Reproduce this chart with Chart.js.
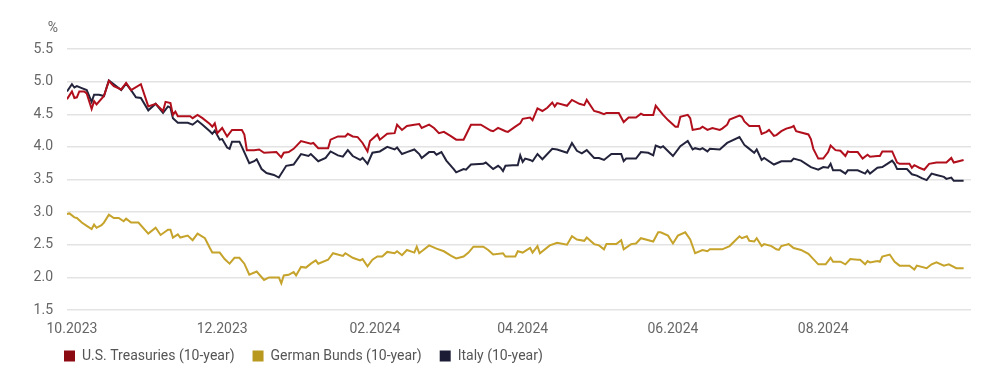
<!DOCTYPE html>
<html>
<head>
<meta charset="utf-8">
<script src="https://cdn.jsdelivr.net/npm/chart.js@4.4.0/dist/chart.umd.min.js"></script>
<style>
  body { margin: 0; background: #fff; }
  #wrap { width: 1000px; height: 387px; }
</style>
</head>
<body>
<div id="wrap"><canvas id="yieldChart"></canvas></div>
<script>
// days counted from 01.10.2023
const tickDays = [0, 61, 123, 183, 244, 305];
const tickLabels = ["10.2023", "12.2023", "02.2024", "04.2024", "06.2024", "08.2024"];

const usDays = [-2,0,1,2,3,5,6,8,9,10,13,15,17,20,22,24,28,31,34,37,38,40,41,42,43,48,49,51,53,56,57,58,59,61,63,65,69,70,71,74,76,78,83,85,86,88,90,93,97,98,100,104,105,108,111,112,114,116,118,120,121,124,125,128,131,132,134,136,139,141,142,145,147,149,151,154,156,159,162,166,170,171,173,176,177,180,182,183,186,187,189,191,193,195,196,197,201,203,206,208,209,212,214,216,217,218,222,224,226,229,231,232,236,237,240,242,245,246,247,250,251,252,255,256,258,260,263,264,266,267,271,272,273,275,279,280,282,283,285,286,288,290,292,293,294,296,299,300,301,303,305,307,308,310,312,314,315,316,319,321,323,324,327,328,329,333,335,336,340,341,342,344,346,348,351,355,357,358,362];
const usYield = [4.73,4.85,4.75,4.76,4.85,4.85,4.82,4.58,4.70,4.65,4.78,5.01,4.93,4.88,4.98,4.87,4.96,4.62,4.66,4.55,4.69,4.67,4.49,4.54,4.47,4.47,4.44,4.49,4.44,4.35,4.31,4.36,4.21,4.29,4.16,4.26,4.26,4.19,3.95,3.95,3.96,3.91,3.92,3.84,3.91,3.92,3.97,4.09,4.05,4.06,3.98,3.98,4.11,4.16,4.16,4.20,4.16,4.15,4.06,3.93,4.09,4.19,4.11,4.20,4.21,4.34,4.26,4.32,4.34,4.35,4.29,4.34,4.29,4.21,4.23,4.16,4.11,4.11,4.34,4.34,4.25,4.24,4.29,4.24,4.23,4.31,4.36,4.43,4.45,4.41,4.59,4.55,4.60,4.68,4.62,4.67,4.63,4.72,4.66,4.64,4.72,4.55,4.53,4.50,4.52,4.52,4.52,4.38,4.45,4.45,4.51,4.49,4.49,4.63,4.49,4.41,4.31,4.31,4.46,4.49,4.44,4.26,4.28,4.31,4.26,4.29,4.26,4.28,4.34,4.42,4.48,4.46,4.39,4.32,4.32,4.20,4.23,4.26,4.17,4.18,4.24,4.28,4.30,4.32,4.24,4.22,4.19,4.12,3.97,3.82,3.82,3.92,4.02,3.95,3.94,3.86,3.93,3.92,3.92,3.82,3.88,3.85,3.86,3.86,3.93,3.93,3.76,3.74,3.74,3.68,3.72,3.68,3.65,3.74,3.76,3.76,3.83,3.76,3.80];

const bundDays = [-2,-1,1,2,4,6,8,9,10,12,13,15,17,19,21,22,24,27,31,34,36,39,40,41,43,44,47,49,51,54,56,57,60,62,64,66,68,70,72,75,78,80,84,85,86,88,90,91,93,95,97,99,100,104,106,110,111,114,117,118,120,122,124,126,128,131,132,134,136,139,140,141,145,148,151,154,156,159,161,163,167,169,171,175,176,180,181,183,186,187,189,190,194,197,201,203,205,208,209,212,214,216,217,221,223,224,227,229,231,236,238,239,242,244,246,249,251,253,256,258,259,264,267,271,272,274,275,277,278,280,281,284,286,287,288,291,293,296,299,301,303,306,308,309,312,314,316,319,320,322,323,324,327,328,329,332,334,336,340,342,343,347,349,351,354,356,359,362];
const bundYield = [2.97,2.98,2.92,2.91,2.84,2.79,2.74,2.81,2.76,2.80,2.84,2.96,2.91,2.91,2.86,2.90,2.84,2.84,2.67,2.76,2.65,2.73,2.73,2.61,2.66,2.61,2.64,2.57,2.67,2.60,2.45,2.38,2.38,2.28,2.21,2.30,2.30,2.21,2.04,2.09,1.96,2.00,2.00,1.91,2.03,2.04,2.08,2.03,2.16,2.15,2.21,2.26,2.21,2.27,2.37,2.33,2.37,2.30,2.26,2.28,2.17,2.27,2.32,2.32,2.39,2.37,2.40,2.34,2.42,2.38,2.47,2.37,2.49,2.44,2.40,2.33,2.29,2.32,2.38,2.47,2.47,2.42,2.35,2.37,2.32,2.32,2.40,2.38,2.45,2.38,2.48,2.37,2.49,2.53,2.50,2.63,2.58,2.56,2.61,2.51,2.49,2.43,2.51,2.51,2.57,2.43,2.51,2.52,2.60,2.55,2.69,2.69,2.64,2.52,2.64,2.69,2.58,2.37,2.42,2.40,2.43,2.43,2.48,2.63,2.60,2.63,2.56,2.55,2.60,2.48,2.51,2.48,2.43,2.42,2.48,2.51,2.45,2.42,2.36,2.28,2.20,2.20,2.30,2.24,2.24,2.20,2.28,2.27,2.27,2.20,2.25,2.23,2.25,2.24,2.32,2.35,2.24,2.18,2.18,2.12,2.18,2.14,2.20,2.23,2.18,2.20,2.14,2.14];

const italyDays = [-2,0,1,2,4,6,8,9,11,13,15,17,20,22,24,26,28,31,34,37,39,40,41,43,47,49,51,53,56,57,58,60,61,63,64,65,68,69,72,74,75,77,79,82,84,87,90,93,96,97,100,103,105,108,110,112,114,117,118,120,122,125,128,131,132,134,136,139,141,142,145,147,148,150,152,155,156,159,160,162,167,168,171,173,174,175,176,179,181,182,183,184,186,187,189,191,195,197,201,203,205,207,209,212,214,216,219,223,224,225,229,231,234,236,237,239,240,244,247,250,252,253,255,256,258,259,263,266,271,273,274,277,278,280,281,285,288,292,293,296,300,303,305,307,308,309,312,314,315,319,322,323,324,327,329,331,333,334,335,339,341,343,345,347,349,351,354,355,357,358,362];
const italyYield = [4.85,4.96,4.91,4.93,4.90,4.87,4.69,4.80,4.80,4.78,5.02,4.96,4.87,4.97,4.87,4.76,4.75,4.56,4.66,4.52,4.62,4.60,4.44,4.37,4.37,4.34,4.40,4.34,4.24,4.20,4.25,4.11,4.12,3.99,3.97,4.08,4.08,4.00,3.75,3.78,3.81,3.66,3.60,3.57,3.53,3.71,3.73,3.89,3.86,3.89,3.78,3.83,3.93,3.87,3.85,3.95,3.86,3.80,3.83,3.74,3.91,3.93,4.00,3.96,3.99,3.89,3.92,3.96,3.89,3.83,3.92,3.92,3.88,3.92,3.79,3.66,3.61,3.66,3.65,3.73,3.74,3.76,3.66,3.71,3.68,3.63,3.71,3.72,3.72,3.87,3.77,3.82,3.80,3.78,3.89,3.81,3.97,3.96,3.91,4.06,3.94,3.90,3.95,3.83,3.83,3.80,3.89,3.89,3.78,3.82,3.82,3.92,3.91,3.87,4.02,3.99,4.01,3.86,4.01,4.09,3.96,3.98,3.96,3.98,3.93,3.97,3.96,4.06,4.15,4.03,4.00,3.91,3.96,3.80,3.83,3.73,3.78,3.78,3.82,3.79,3.69,3.65,3.69,3.68,3.74,3.64,3.64,3.59,3.64,3.64,3.59,3.64,3.59,3.68,3.69,3.74,3.79,3.74,3.66,3.66,3.58,3.56,3.52,3.49,3.59,3.57,3.54,3.51,3.53,3.48,3.48];

const seriesNames = ["U.S. Treasuries (10-year)", "German Bunds (10-year)", "Italy (10-year)"];
const lineColors = ["#b10f1c", "#c6a32b", "#23243c"];
const boxColors = ["#8c0b12", "#b8981f", "#1c1c34"];

const toPoints = (days, vals) => days.map((d, i) => ({ x: d, y: vals[i] }));

// "%" above the y axis, and legend moved under the plot's left edge
const extras = {
  id: "extras",
  afterLayout(chart) {
    chart.legend.left = 46;
    chart.legend.top = 331;
  },
  afterDraw(chart) {
    const ctx = chart.ctx;
    ctx.save();
    ctx.font = "14px Roboto";
    ctx.fillStyle = "#666";
    ctx.textAlign = "center";
    ctx.textBaseline = "middle";
    ctx.fillText("%", 53, chart.chartArea.top - 21);
    ctx.restore();
  }
};

new Chart(document.getElementById("yieldChart"), {
  type: "line",
  data: {
    datasets: [
      { label: seriesNames[0], data: toPoints(usDays, usYield) },
      { label: seriesNames[1], data: toPoints(bundDays, bundYield) },
      { label: seriesNames[2], data: toPoints(italyDays, italyYield) }
    ].map((ds, i) => ({ ...ds, borderColor: lineColors[i], backgroundColor: boxColors[i], borderWidth: 2, pointRadius: 0, tension: 0 }))
  },
  options: {
    responsive: true,
    maintainAspectRatio: false,
    animation: false,
    layout: { padding: { top: 49, left: 0, right: 29, bottom: 5 } },
    plugins: {
      tooltip: { enabled: false },
      legend: {
        position: "bottom",
        align: "start",
        labels: {
          boxWidth: 11, boxHeight: 11, padding: 18,
          color: "#555",
          font: { family: "Roboto", size: 14 },
          generateLabels: chart => Chart.defaults.plugins.legend.labels.generateLabels(chart).map(l => ({ ...l, lineWidth: 0 }))
        }
      }
    },
    scales: {
      x: {
        type: "linear",
        min: -2,
        max: 365,
        afterBuildTicks: scale => { scale.ticks = tickDays.map(v => ({ value: v })); },
        afterFit: scale => { scale.height = 30; },
        grid: { display: false, drawTicks: false },
        border: { display: false },
        ticks: {
          autoSkip: false, maxRotation: 0, padding: 11,
          color: "#666", font: { family: "Roboto", size: 14 },
          callback: (v) => tickLabels[tickDays.indexOf(v)]
        }
      },
      y: {
        min: 1.5,
        max: 5.5,
        afterFit: scale => { scale.width = 67; },
        grid: { color: "#e3e3e3", lineWidth: 1.5, drawTicks: false },
        border: { display: false },
        ticks: {
          stepSize: 0.5, padding: 14,
          color: "#666", font: { family: "Roboto", size: 14 },
          callback: v => v.toFixed(1)
        }
      }
    }
  },
  plugins: [extras]
});
</script>
</body>
</html>
